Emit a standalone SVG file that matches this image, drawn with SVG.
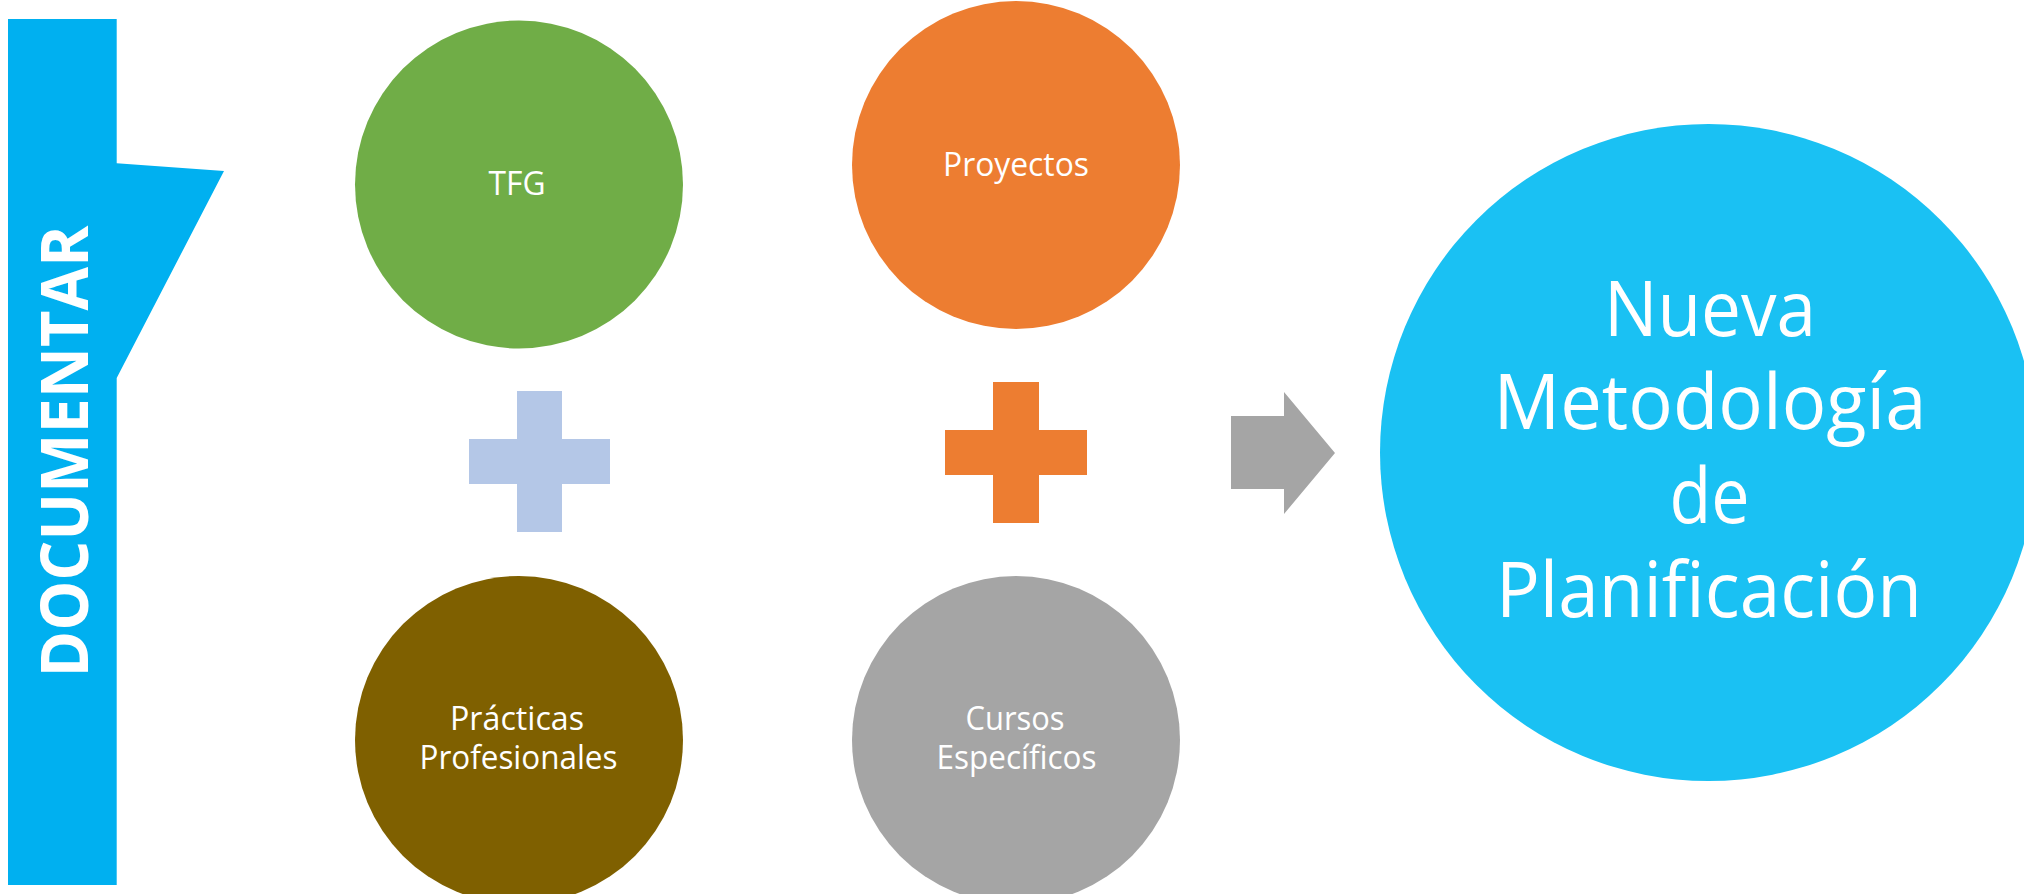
<svg xmlns="http://www.w3.org/2000/svg" width="2024" height="894" viewBox="0 0 2024 894">
  <style>
    .lbl { font-family: "Open Sans", "Noto Sans", "Liberation Sans", sans-serif; fill: #FFFFFF; text-anchor: middle; }
    .sm { font-size: 33px; }
    .big { font-size: 76px; }
    .banner-text { font-family: "Open Sans", "Noto Sans", "Liberation Sans", sans-serif; font-weight: bold; font-size: 67px; fill: #FFFFFF; text-anchor: middle; }
  </style>
  <rect x="0" y="0" width="2024" height="894" fill="#FFFFFF"/>

  <g id="banner-documentar">
    <polygon points="8,19 116.7,19 116.7,163.3 224,171 116.7,378 116.7,885 8,885" fill="#00B0F0"/>
    <text class="banner-text" transform="translate(88,451.5) rotate(-90)" x="0" y="0" textLength="452" lengthAdjust="spacingAndGlyphs">DOCUMENTAR</text>
  </g>

  <g id="node-tfg">
    <circle cx="519" cy="184.5" r="164" fill="#70AD47"/>
    <text class="lbl sm" x="517" y="195" textLength="57" lengthAdjust="spacingAndGlyphs">TFG</text>
  </g>

  <g id="node-proyectos">
    <circle cx="1016" cy="165" r="164" fill="#ED7D31"/>
    <text class="lbl sm" x="1016" y="176" textLength="146" lengthAdjust="spacingAndGlyphs">Proyectos</text>
  </g>

  <g id="node-practicas">
    <circle cx="519" cy="740" r="164" fill="#7F6000"/>
    <text class="lbl sm" x="517" y="730" textLength="134" lengthAdjust="spacingAndGlyphs">Prácticas</text>
    <text class="lbl sm" x="518.5" y="769" textLength="198" lengthAdjust="spacingAndGlyphs">Profesionales</text>
  </g>

  <g id="node-cursos">
    <circle cx="1016" cy="740" r="164" fill="#A5A5A5"/>
    <text class="lbl sm" x="1015" y="730" textLength="99" lengthAdjust="spacingAndGlyphs">Cursos</text>
    <text class="lbl sm" x="1016.5" y="769" textLength="160" lengthAdjust="spacingAndGlyphs">Específicos</text>
  </g>

  <g id="node-nueva-metodologia">
    <circle cx="1708.5" cy="452.5" r="328.5" fill="#1AC1F3"/>
    <text class="lbl big" x="1710" y="336" textLength="212" lengthAdjust="spacingAndGlyphs">Nueva</text>
    <text class="lbl big" x="1710" y="429" textLength="433" lengthAdjust="spacingAndGlyphs">Metodología</text>
    <text class="lbl big" x="1709.5" y="523" textLength="80" lengthAdjust="spacingAndGlyphs">de</text>
    <text class="lbl big" x="1709" y="617" textLength="426" lengthAdjust="spacingAndGlyphs">Planificación</text>
  </g>

  <g id="plus-blue">
    <polygon points="517,391 562,391 562,439 610,439 610,484 562,484 562,532 517,532 517,484 469,484 469,439 517,439" fill="#B4C7E7"/>
  </g>

  <g id="plus-orange">
    <polygon points="993,382 1039,382 1039,430 1087,430 1087,475 1039,475 1039,523 993,523 993,475 945,475 945,430 993,430" fill="#ED7D31"/>
  </g>

  <g id="connectors">
    <polygon points="1231,416 1284,416 1284,392 1335,453 1284,514 1284,489 1231,489" fill="#A5A5A5"/>
  </g>
</svg>
